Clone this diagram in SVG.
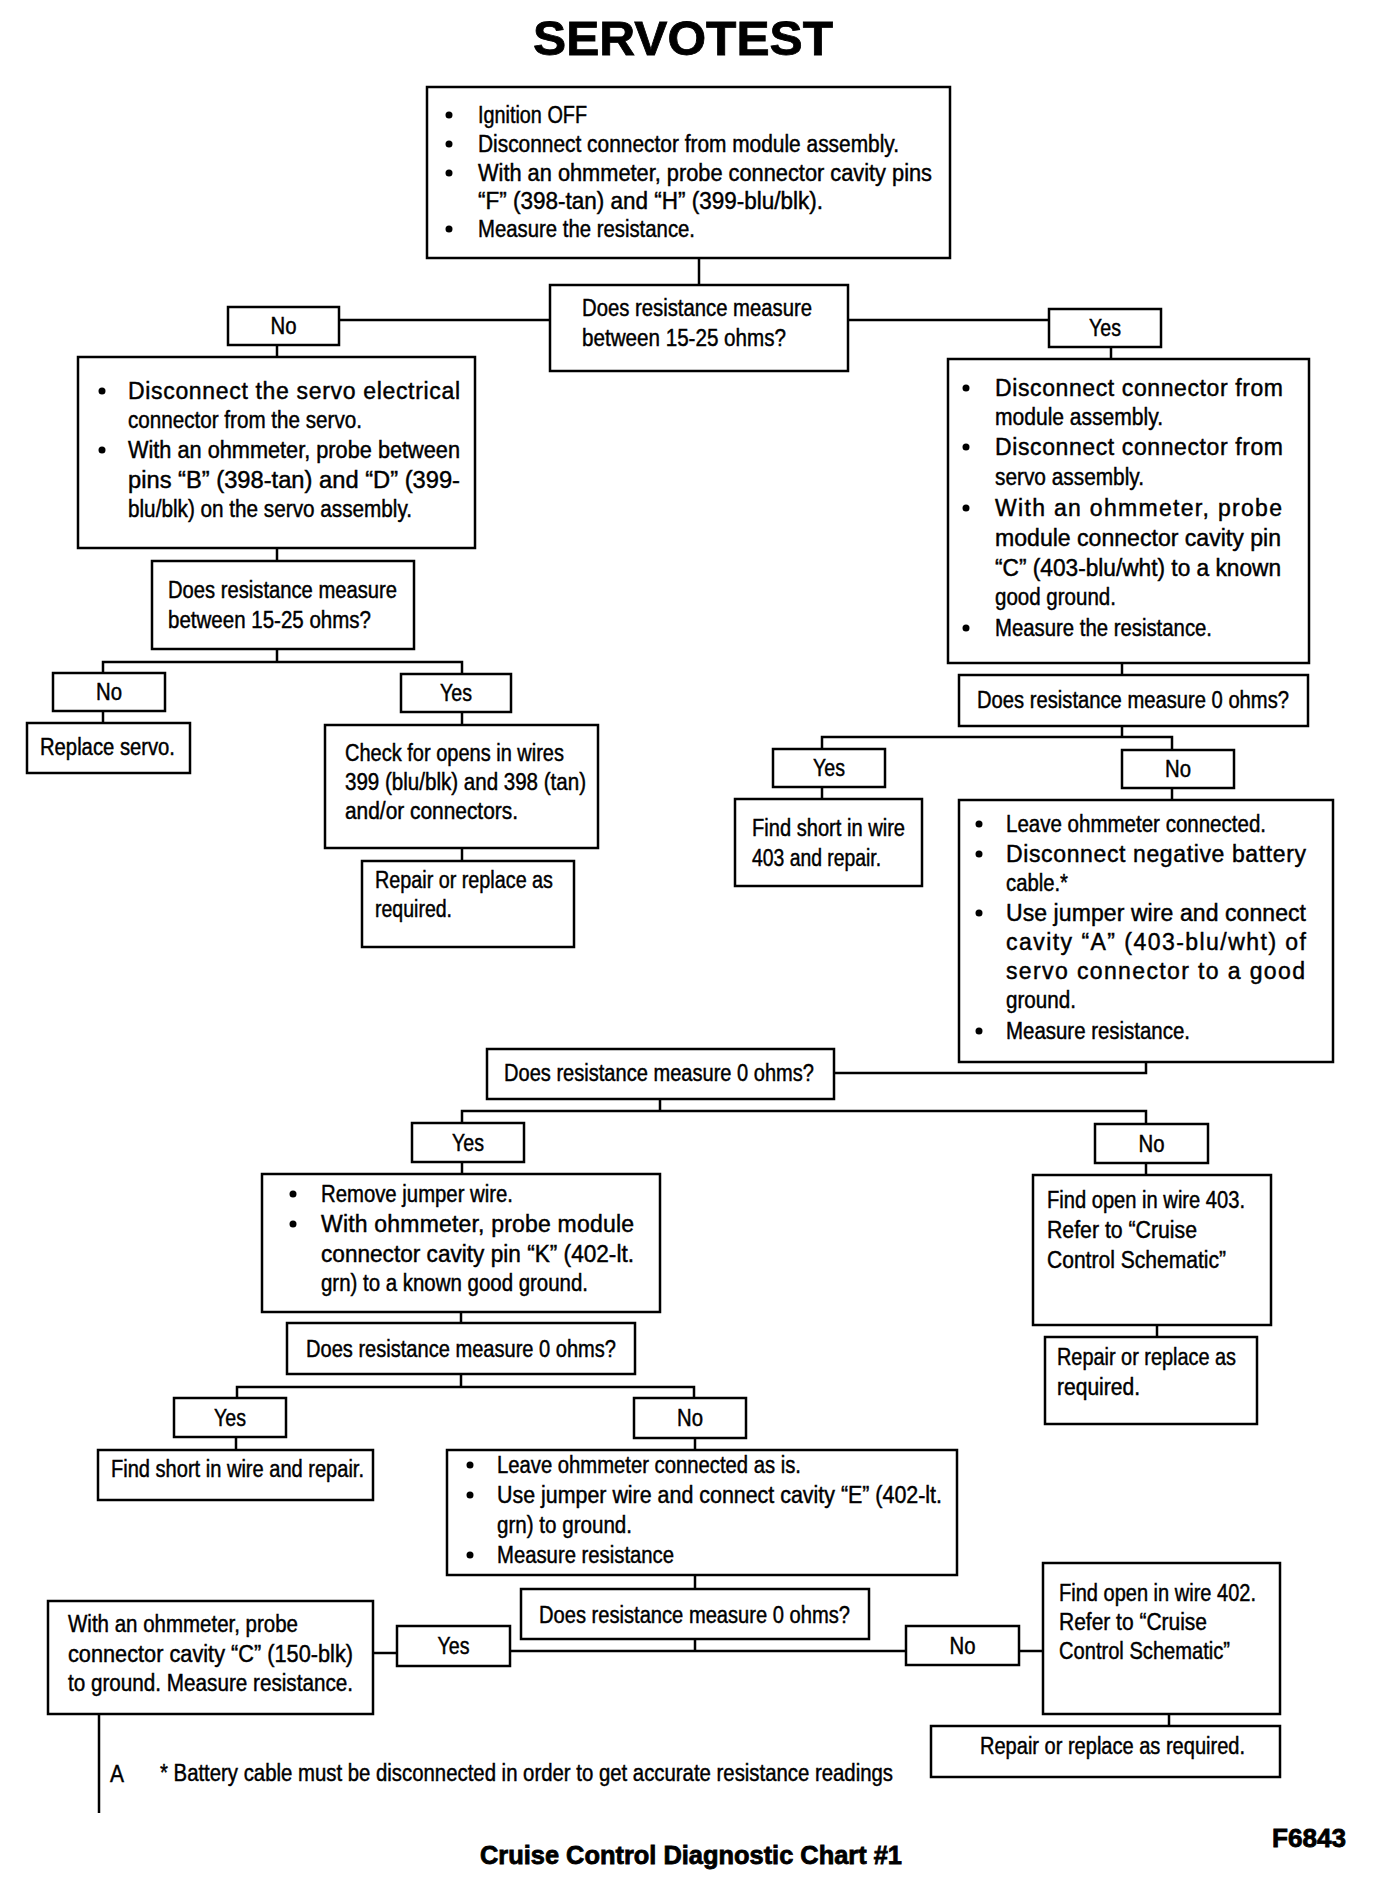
<svg xmlns="http://www.w3.org/2000/svg" width="1376" height="1878" viewBox="0 0 1376 1878">
<style>
.bg{fill:#fff}
.box{fill:#fff;stroke:#000;stroke-width:2.5}
.ln{fill:none;stroke:#000;stroke-width:2.5}
.t{font-family:"Liberation Sans",Arial,sans-serif;font-size:23px;fill:#000;stroke:#000;stroke-width:0.45}
.c{text-anchor:middle}
.b{font-family:"Liberation Sans",Arial,sans-serif;font-weight:bold;fill:#000;stroke:#000;stroke-width:0.8}
.dot{fill:#000}
</style>
<rect class="bg" x="0" y="0" width="1376" height="1878"/>
<text class="b c" x="683" y="55" font-size="49" textLength="300" lengthAdjust="spacingAndGlyphs" stroke-width="1.5">SERVOTEST</text>

<g id="connectors">
<path class="ln" d="M699 258V285"/>
<path class="ln" d="M339 320H550"/>
<path class="ln" d="M848 320H1049"/>
<path class="ln" d="M277 345V357"/>
<path class="ln" d="M1111 347V359"/>
<path class="ln" d="M277 548V561"/>
<path class="ln" d="M277 649V662M103 673V662H462V674"/>
<path class="ln" d="M103 711V723"/>
<path class="ln" d="M462 712V725"/>
<path class="ln" d="M462 848V861"/>
<path class="ln" d="M1122 663V675"/>
<path class="ln" d="M1122 726V737M822 749V737H1172V750"/>
<path class="ln" d="M822 787V799"/>
<path class="ln" d="M1172 788V800"/>
<path class="ln" d="M1146 1062V1073H834"/>
<path class="ln" d="M660 1099V1111M462 1123V1111H1146V1124"/>
<path class="ln" d="M462 1162V1174"/>
<path class="ln" d="M1146 1163V1175"/>
<path class="ln" d="M461 1312V1323"/>
<path class="ln" d="M1157 1325V1337"/>
<path class="ln" d="M461 1374V1387M237 1398V1387H694V1398"/>
<path class="ln" d="M236 1437V1450"/>
<path class="ln" d="M695 1438V1450"/>
<path class="ln" d="M695 1575V1589"/>
<path class="ln" d="M695 1639V1651M510 1651H906"/>
<path class="ln" d="M373 1653H397" stroke-width="3.5"/>
<path class="ln" d="M1019 1651H1043"/>
<path class="ln" d="M1169 1714V1726"/>
<path class="ln" d="M99 1714V1813" stroke-width="3"/>
</g>

<g id="start">
<rect class="box" x="427" y="87" width="523" height="171"/>
<circle class="dot" cx="449" cy="115" r="3.5"/>
<circle class="dot" cx="449" cy="144" r="3.5"/>
<circle class="dot" cx="449" cy="173" r="3.5"/>
<circle class="dot" cx="449" cy="229" r="3.5"/>
<text class="t" x="478" y="123" textLength="109" lengthAdjust="spacingAndGlyphs">Ignition OFF</text>
<text class="t" x="478" y="152" textLength="421" lengthAdjust="spacingAndGlyphs">Disconnect connector from module assembly.</text>
<text class="t" x="478" y="181" textLength="454" lengthAdjust="spacingAndGlyphs">With an ohmmeter, probe connector cavity pins</text>
<text class="t" x="478" y="209" textLength="345" lengthAdjust="spacingAndGlyphs">“F” (398-tan) and “H” (399-blu/blk).</text>
<text class="t" x="478" y="237" textLength="217" lengthAdjust="spacingAndGlyphs">Measure the resistance.</text>
</g>

<g id="q1">
<rect class="box" x="550" y="285" width="298" height="86"/>
<text class="t" x="582" y="316" textLength="230" lengthAdjust="spacingAndGlyphs">Does resistance measure</text>
<text class="t" x="582" y="346" textLength="204" lengthAdjust="spacingAndGlyphs">between 15-25 ohms?</text>
</g>

<g id="q1-no">
<rect class="box" x="228" y="307" width="111" height="38"/>
<text class="t c" x="283.5" y="334" textLength="26" lengthAdjust="spacingAndGlyphs">No</text>
</g>
<g id="q1-yes">
<rect class="box" x="1049" y="309" width="112" height="38"/>
<text class="t c" x="1105" y="336" textLength="32" lengthAdjust="spacingAndGlyphs">Yes</text>
</g>

<g id="servo-check">
<rect class="box" x="78" y="357" width="397" height="191"/>
<circle class="dot" cx="102" cy="391" r="3.5"/>
<circle class="dot" cx="102" cy="450" r="3.5"/>
<text class="t" x="128" y="399" textLength="332" lengthAdjust="spacing">Disconnect the servo electrical</text>
<text class="t" x="128" y="428" textLength="234" lengthAdjust="spacingAndGlyphs">connector from the servo.</text>
<text class="t" x="128" y="458" textLength="332" lengthAdjust="spacingAndGlyphs">With an ohmmeter, probe between</text>
<text class="t" x="128" y="488" textLength="332" lengthAdjust="spacingAndGlyphs">pins “B” (398-tan) and “D” (399-</text>
<text class="t" x="128" y="517" textLength="284" lengthAdjust="spacingAndGlyphs">blu/blk) on the servo assembly.</text>
</g>

<g id="q2">
<rect class="box" x="152" y="561" width="262" height="88"/>
<text class="t" x="168" y="598" textLength="229" lengthAdjust="spacingAndGlyphs">Does resistance measure</text>
<text class="t" x="168" y="628" textLength="203" lengthAdjust="spacingAndGlyphs">between 15-25 ohms?</text>
</g>
<g id="q2-no">
<rect class="box" x="53" y="673" width="112" height="38"/>
<text class="t c" x="109" y="700" textLength="26" lengthAdjust="spacingAndGlyphs">No</text>
</g>
<g id="q2-yes">
<rect class="box" x="401" y="674" width="110" height="38"/>
<text class="t c" x="456" y="701" textLength="32" lengthAdjust="spacingAndGlyphs">Yes</text>
</g>
<g id="replace-servo">
<rect class="box" x="27" y="723" width="163" height="50"/>
<text class="t" x="40" y="755" textLength="135" lengthAdjust="spacingAndGlyphs">Replace servo.</text>
</g>
<g id="check-opens">
<rect class="box" x="325" y="725" width="273" height="123"/>
<text class="t" x="345" y="761" textLength="219" lengthAdjust="spacingAndGlyphs">Check for opens in wires</text>
<text class="t" x="345" y="790" textLength="241" lengthAdjust="spacingAndGlyphs">399 (blu/blk) and 398 (tan)</text>
<text class="t" x="345" y="819" textLength="173" lengthAdjust="spacingAndGlyphs">and/or connectors.</text>
</g>
<g id="repair-1">
<rect class="box" x="362" y="861" width="212" height="86"/>
<text class="t" x="375" y="888" textLength="178" lengthAdjust="spacingAndGlyphs">Repair or replace as</text>
<text class="t" x="375" y="917" textLength="77" lengthAdjust="spacingAndGlyphs">required.</text>
</g>

<g id="module-check">
<rect class="box" x="948" y="359" width="361" height="304"/>
<circle class="dot" cx="966" cy="388" r="3.5"/>
<circle class="dot" cx="966" cy="447" r="3.5"/>
<circle class="dot" cx="966" cy="508" r="3.5"/>
<circle class="dot" cx="966" cy="628" r="3.5"/>
<text class="t" x="995" y="396" textLength="288" lengthAdjust="spacing">Disconnect connector from</text>
<text class="t" x="995" y="425" textLength="168" lengthAdjust="spacingAndGlyphs">module assembly.</text>
<text class="t" x="995" y="455" textLength="288" lengthAdjust="spacing">Disconnect connector from</text>
<text class="t" x="995" y="485" textLength="149" lengthAdjust="spacingAndGlyphs">servo assembly.</text>
<text class="t" x="995" y="516" textLength="287" lengthAdjust="spacing">With an ohmmeter, probe</text>
<text class="t" x="995" y="546" textLength="286" lengthAdjust="spacingAndGlyphs">module connector cavity pin</text>
<text class="t" x="995" y="576" textLength="286" lengthAdjust="spacingAndGlyphs">“C” (403-blu/wht) to a known</text>
<text class="t" x="995" y="605" textLength="121" lengthAdjust="spacingAndGlyphs">good ground.</text>
<text class="t" x="995" y="636" textLength="217" lengthAdjust="spacingAndGlyphs">Measure the resistance.</text>
</g>

<g id="q3">
<rect class="box" x="959" y="675" width="349" height="51"/>
<text class="t" x="977" y="708" textLength="312" lengthAdjust="spacingAndGlyphs">Does resistance measure 0 ohms?</text>
</g>
<g id="q3-yes">
<rect class="box" x="773" y="749" width="112" height="38"/>
<text class="t c" x="829" y="776" textLength="32" lengthAdjust="spacingAndGlyphs">Yes</text>
</g>
<g id="q3-no">
<rect class="box" x="1122" y="750" width="112" height="38"/>
<text class="t c" x="1178" y="777" textLength="26" lengthAdjust="spacingAndGlyphs">No</text>
</g>
<g id="short-403">
<rect class="box" x="735" y="799" width="187" height="87"/>
<text class="t" x="752" y="836" textLength="153" lengthAdjust="spacingAndGlyphs">Find short in wire</text>
<text class="t" x="752" y="866" textLength="129" lengthAdjust="spacingAndGlyphs">403 and repair.</text>
</g>
<g id="jumper-a">
<rect class="box" x="959" y="800" width="374" height="262"/>
<circle class="dot" cx="979" cy="824" r="3.5"/>
<circle class="dot" cx="979" cy="854" r="3.5"/>
<circle class="dot" cx="979" cy="913" r="3.5"/>
<circle class="dot" cx="979" cy="1031" r="3.5"/>
<text class="t" x="1006" y="832" textLength="260" lengthAdjust="spacingAndGlyphs">Leave ohmmeter connected.</text>
<text class="t" x="1006" y="862" textLength="300" lengthAdjust="spacing">Disconnect negative battery</text>
<text class="t" x="1006" y="891" textLength="62" lengthAdjust="spacingAndGlyphs">cable.*</text>
<text class="t" x="1006" y="921" textLength="300" lengthAdjust="spacing">Use jumper wire and connect</text>
<text class="t" x="1006" y="950" textLength="300" lengthAdjust="spacing">cavity “A” (403-blu/wht) of</text>
<text class="t" x="1006" y="979" textLength="299" lengthAdjust="spacing">servo connector to a good</text>
<text class="t" x="1006" y="1008" textLength="70" lengthAdjust="spacingAndGlyphs">ground.</text>
<text class="t" x="1006" y="1039" textLength="184" lengthAdjust="spacingAndGlyphs">Measure resistance.</text>
</g>

<g id="q4">
<rect class="box" x="487" y="1049" width="347" height="50"/>
<text class="t" x="504" y="1081" textLength="310" lengthAdjust="spacingAndGlyphs">Does resistance measure 0 ohms?</text>
</g>
<g id="q4-yes">
<rect class="box" x="412" y="1123" width="112" height="39"/>
<text class="t c" x="468" y="1151" textLength="32" lengthAdjust="spacingAndGlyphs">Yes</text>
</g>
<g id="q4-no">
<rect class="box" x="1095" y="1124" width="113" height="39"/>
<text class="t c" x="1151.5" y="1152" textLength="26" lengthAdjust="spacingAndGlyphs">No</text>
</g>
<g id="remove-jumper">
<rect class="box" x="262" y="1174" width="398" height="138"/>
<circle class="dot" cx="293" cy="1194" r="3.5"/>
<circle class="dot" cx="293" cy="1224" r="3.5"/>
<text class="t" x="321" y="1202" textLength="192" lengthAdjust="spacingAndGlyphs">Remove jumper wire.</text>
<text class="t" x="321" y="1232" textLength="313" lengthAdjust="spacing">With ohmmeter, probe module</text>
<text class="t" x="321" y="1262" textLength="313" lengthAdjust="spacingAndGlyphs">connector cavity pin “K” (402-lt.</text>
<text class="t" x="321" y="1291" textLength="267" lengthAdjust="spacingAndGlyphs">grn) to a known good ground.</text>
</g>
<g id="open-403">
<rect class="box" x="1033" y="1175" width="238" height="150"/>
<text class="t" x="1047" y="1208" textLength="198" lengthAdjust="spacingAndGlyphs">Find open in wire 403.</text>
<text class="t" x="1047" y="1238" textLength="150" lengthAdjust="spacingAndGlyphs">Refer to “Cruise</text>
<text class="t" x="1047" y="1268" textLength="179" lengthAdjust="spacingAndGlyphs">Control Schematic”</text>
</g>
<g id="repair-2">
<rect class="box" x="1045" y="1337" width="212" height="87"/>
<text class="t" x="1057" y="1365" textLength="179" lengthAdjust="spacingAndGlyphs">Repair or replace as</text>
<text class="t" x="1057" y="1395" textLength="83" lengthAdjust="spacingAndGlyphs">required.</text>
</g>

<g id="q5">
<rect class="box" x="287" y="1323" width="348" height="51"/>
<text class="t" x="306" y="1357" textLength="310" lengthAdjust="spacingAndGlyphs">Does resistance measure 0 ohms?</text>
</g>
<g id="q5-yes">
<rect class="box" x="174" y="1398" width="112" height="39"/>
<text class="t c" x="230" y="1426" textLength="32" lengthAdjust="spacingAndGlyphs">Yes</text>
</g>
<g id="q5-no">
<rect class="box" x="634" y="1398" width="112" height="40"/>
<text class="t c" x="690" y="1426" textLength="26" lengthAdjust="spacingAndGlyphs">No</text>
</g>
<g id="short-wire">
<rect class="box" x="98" y="1450" width="275" height="50"/>
<text class="t" x="111" y="1477" textLength="253" lengthAdjust="spacingAndGlyphs">Find short in wire and repair.</text>
</g>
<g id="jumper-e">
<rect class="box" x="447" y="1450" width="510" height="125"/>
<circle class="dot" cx="470" cy="1465" r="3.5"/>
<circle class="dot" cx="470" cy="1495" r="3.5"/>
<circle class="dot" cx="470" cy="1555" r="3.5"/>
<text class="t" x="497" y="1473" textLength="304" lengthAdjust="spacingAndGlyphs">Leave ohmmeter connected as is.</text>
<text class="t" x="497" y="1503" textLength="445" lengthAdjust="spacingAndGlyphs">Use jumper wire and connect cavity “E” (402-lt.</text>
<text class="t" x="497" y="1533" textLength="135" lengthAdjust="spacingAndGlyphs">grn) to ground.</text>
<text class="t" x="497" y="1563" textLength="177" lengthAdjust="spacingAndGlyphs">Measure resistance</text>
</g>

<g id="q6">
<rect class="box" x="521" y="1589" width="348" height="50"/>
<text class="t" x="539" y="1623" textLength="311" lengthAdjust="spacingAndGlyphs">Does resistance measure 0 ohms?</text>
</g>
<g id="q6-yes">
<rect class="box" x="397" y="1626" width="113" height="40"/>
<text class="t c" x="453.5" y="1654" textLength="32" lengthAdjust="spacingAndGlyphs">Yes</text>
</g>
<g id="q6-no">
<rect class="box" x="906" y="1626" width="113" height="39"/>
<text class="t c" x="962.5" y="1654" textLength="26" lengthAdjust="spacingAndGlyphs">No</text>
</g>
<g id="probe-c">
<rect class="box" x="48" y="1601" width="325" height="113"/>
<text class="t" x="68" y="1632" textLength="230" lengthAdjust="spacingAndGlyphs">With an ohmmeter, probe</text>
<text class="t" x="68" y="1662" textLength="285" lengthAdjust="spacingAndGlyphs">connector cavity “C” (150-blk)</text>
<text class="t" x="68" y="1691" textLength="285" lengthAdjust="spacingAndGlyphs">to ground. Measure resistance.</text>
</g>
<g id="open-402">
<rect class="box" x="1043" y="1563" width="237" height="151"/>
<text class="t" x="1059" y="1601" textLength="197" lengthAdjust="spacingAndGlyphs">Find open in wire 402.</text>
<text class="t" x="1059" y="1630" textLength="148" lengthAdjust="spacingAndGlyphs">Refer to “Cruise</text>
<text class="t" x="1059" y="1659" textLength="171" lengthAdjust="spacingAndGlyphs">Control Schematic”</text>
</g>
<g id="repair-3">
<rect class="box" x="931" y="1726" width="349" height="51"/>
<text class="t" x="980" y="1754" textLength="265" lengthAdjust="spacingAndGlyphs">Repair or replace as required.</text>
</g>

<g id="footnote">
<text class="t" x="110" y="1782" textLength="14" lengthAdjust="spacingAndGlyphs" stroke-width="0.9">A</text>
<text class="t" x="160" y="1781" textLength="733" lengthAdjust="spacingAndGlyphs">* Battery cable must be disconnected in order to get accurate resistance readings</text>
</g>
<text class="b" x="480" y="1864" font-size="25" textLength="422" lengthAdjust="spacingAndGlyphs">Cruise Control Diagnostic Chart #1</text>
<text class="b" x="1272" y="1847" font-size="26" textLength="74" lengthAdjust="spacingAndGlyphs">F6843</text>
</svg>
